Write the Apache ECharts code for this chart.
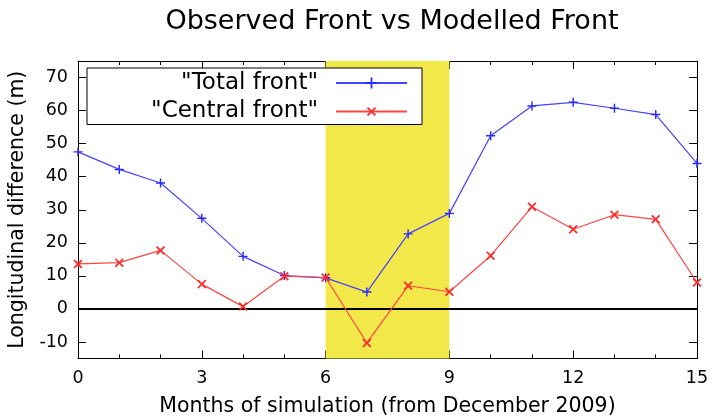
<!DOCTYPE html>
<html>
<head>
<meta charset="utf-8">
<script src="https://cdn.jsdelivr.net/npm/echarts@6/dist/echarts.min.js"></script>
<style>html,body{margin:0;padding:0;background:#fff;}#c{width:712px;height:419px;}</style>
</head>
<body>
<div id="c"></div>
<script>
var months = [0,1,2,3,4,5,6,7,8,9,10,11,12,13,14,15];
var totalFront = [47.5,42.2,38.1,27.4,15.9,10.1,9.4,5.1,22.7,28.9,52.4,61.4,62.5,60.7,58.8,44.0];
var centralFront = [13.6,14.0,17.7,7.5,0.7,9.9,9.5,-10.3,7.0,5.2,16.1,30.9,24.1,28.5,27.1,8.0];
var yTicks = [-10,0,10,20,30,40,50,60,70];
var xTicks = [0,3,6,9,12,15];
var shadeRange = [6,9];

var FONT = 'DejaVu Sans';
var plusPath = 'path://M4.2,0H5.8V4.2H10V5.8H5.8V10H4.2V5.8H0V4.2H4.2Z';

function pairs(ys){ return months.map(function(m,i){ return [m, ys[i]]; }); }

var chart = echarts.init(document.getElementById('c'), null, {renderer:'canvas'});
var axisCommon = {
  min: 0, max: 15, interval: 3, type: 'value',
  axisLine: {show: true, onZero: false, lineStyle: {color: '#000', width: 1}},
  axisTick: {show: true, inside: true, length: 8, lineStyle: {color: '#000'}},
  minorTick: {show: true, splitNumber: 3, length: 4, lineStyle: {color: '#000'}},
  splitLine: {show: false}
};
var yCommon = {
  type: 'value', min: -15, max: 75,
  axisLine: {show: true, onZero: false, lineStyle: {color: '#000', width: 1}},
  axisTick: {show: true, inside: true, length: 8, customValues: yTicks, lineStyle: {color: '#000'}},
  splitLine: {show: false}
};
chart.setOption({
  animation: false,
  backgroundColor: '#fff',
  textStyle: {fontFamily: FONT},
  title: {
    text: 'Observed Front vs Modelled Front',
    left: 387, top: 3, textAlign: 'center',
    textStyle: {fontFamily: FONT, fontSize: 27, fontWeight: 'normal', color: '#000'}
  },
  grid: {left: 78, right: 15, top: 61, bottom: 60.5, containLabel: false, outerBoundsMode: 'none'},
  legend: {
    orient: 'vertical', left: 87, top: 68, align: 'right',
    padding: [3, 14, 1, 10], itemGap: 4.5,
    itemWidth: 71, itemHeight: 14,
    backgroundColor: '#fff', borderColor: '#000', borderWidth: 1, borderRadius: 0,
    z: 20,
    textStyle: {fontFamily: FONT, fontSize: 23, color: '#000', width: 221, align: 'right', padding: [0, 13, 0, 0], lineHeight: 24},
    formatter: function(n){ return '"' + n + '"'; },
    data: ['Total front', 'Central front']
  },
  xAxis: [
    Object.assign({}, axisCommon, {
      position: 'bottom',
      name: 'Months of simulation (from December 2009)',
      nameLocation: 'middle', nameGap: 38,
      nameTextStyle: {fontFamily: FONT, fontSize: 20.5, color: '#000'},
      axisLabel: {show: true, customValues: xTicks, fontFamily: FONT, fontSize: 17.5, color: '#000', margin: 11}
    }),
    Object.assign({}, axisCommon, {position: 'top', axisLabel: {show: false}})
  ],
  yAxis: [
    Object.assign({}, yCommon, {
      position: 'left',
      name: 'Longitudinal difference (m)',
      nameLocation: 'middle', nameGap: 39, nameRotate: 90,
      nameTextStyle: {fontFamily: FONT, fontSize: 20.5, color: '#000'},
      axisLabel: {show: true, customValues: yTicks, fontFamily: FONT, fontSize: 17.5, color: '#000', margin: 10}
    }),
    Object.assign({}, yCommon, {position: 'right', axisLabel: {show: false}})
  ],
  series: [
    {
      name: 'Total front', type: 'line', data: pairs(totalFront),
      symbol: plusPath, symbolSize: 9,
      itemStyle: {color: '#2a2aff'},
      lineStyle: {color: '#4444ff', width: 1.2},
      z: 5,
      markArea: {
        silent: true,
        itemStyle: {color: '#f2e84a', opacity: 1},
        data: [[{xAxis: shadeRange[0]}, {xAxis: shadeRange[1]}]]
      },
      markLine: {
        silent: true, symbol: 'none', label: {show: false},
        lineStyle: {color: '#000', width: 2, type: 'solid'},
        data: [{yAxis: 0}]
      }
    },
    {
      name: 'Central front', type: 'line', data: pairs(centralFront),
      symbol: plusPath, symbolRotate: 45, symbolSize: 11,
      itemStyle: {color: '#ff2a2a'},
      lineStyle: {color: '#ff4444', width: 1.2},
      z: 6
    }
  ]
});
</script>
</body>
</html>
